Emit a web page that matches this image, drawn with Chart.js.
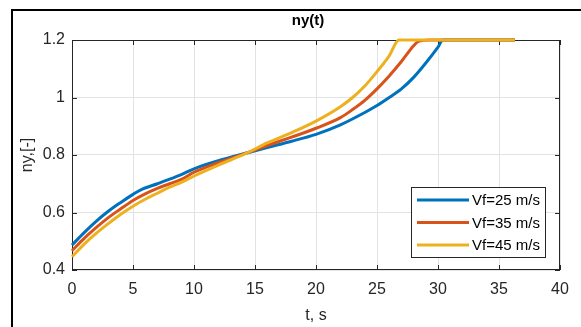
<!DOCTYPE html>
<html>
<head>
<meta charset="utf-8">
<script src="https://cdn.jsdelivr.net/npm/chart.js@4.4.0/dist/chart.umd.min.js"></script>
<style>
  html, body { margin: 0; padding: 0; background: #fff; }
  #wrap { width: 581px; height: 327px; }
</style>
</head>
<body>
<div id="wrap"><canvas id="chart" width="581" height="327"></canvas></div>
<script>
// values
const t25  = [0, 1, 2, 3, 4, 5, 5.6, 7, 8, 9, 10, 12, 14.4, 16, 18, 20, 22, 24, 25, 26, 27, 28, 29, 30, 30.4, 36.3];
const ny25 = [0.487, 0.53, 0.57, 0.605, 0.635, 0.663, 0.678, 0.700, 0.716, 0.733, 0.752, 0.780, 0.808, 0.826, 0.848, 0.872, 0.905, 0.948, 0.972, 1.0, 1.03, 1.07, 1.12, 1.175, 1.2, 1.2];

const t35  = [0, 1, 2, 3, 4, 5, 6, 7, 8, 9, 10, 12, 14.4, 16, 18, 20, 22, 23, 24, 25, 26, 27, 28, 28.4, 29.3, 36.3];
const ny35 = [0.467, 0.51, 0.548, 0.583, 0.613, 0.642, 0.665, 0.684, 0.700, 0.716, 0.740, 0.773, 0.808, 0.833, 0.862, 0.893, 0.930, 0.958, 0.990, 1.030, 1.075, 1.125, 1.180, 1.195, 1.2, 1.2];

const t45  = [0, 1, 2, 3, 4, 5, 6, 7, 8, 9, 10, 12, 14.4, 16, 18, 20, 22, 23, 24, 25, 26, 26.8, 36.3];
const ny45 = [0.446, 0.49, 0.528, 0.562, 0.594, 0.622, 0.646, 0.667, 0.688, 0.706, 0.727, 0.765, 0.808, 0.842, 0.878, 0.918, 0.968, 1.0, 1.04, 1.09, 1.145, 1.2, 1.2];

const seriesLabels = ['Vf=25 m/s', 'Vf=35 m/s', 'Vf=45 m/s'];
const seriesColors = ['#0072BD', '#D95319', '#EDB120'];
const xTicks = [0, 5, 10, 15, 20, 25, 30, 35, 40];
const yTicks = [0.4, 0.6, 0.8, 1.0, 1.2];

const FONT = "'Liberation Sans', Arial, Helvetica, sans-serif";
const INK = '#262626';

function points(ts, vs) {
    return ts.map((t, i) => ({ x: t, y: vs[i] }));
}

// outer frame, inward ticks, box, title and legend like the matlab figure
const matlabLook = {
    id: 'matlabLook',
    beforeDraw(chart) {
        const ctx = chart.ctx;
        ctx.save();
        ctx.fillStyle = '#fff';
        ctx.fillRect(0, 0, chart.width, chart.height);
        ctx.restore();
    },
    beforeDatasetsDraw(chart) {
        const { ctx, chartArea: a, scales: { x, y } } = chart;
        ctx.save();

        // axes box
        ctx.strokeStyle = INK;
        ctx.lineWidth = 1;
        ctx.strokeRect(a.left + 0.5, a.top + 0.5, a.right - a.left - 1, a.bottom - a.top - 1);

        // ticks pointing inward
        ctx.beginPath();
        for (const v of xTicks) {
            const px = Math.round(x.getPixelForValue(v)) + 0.5;
            ctx.moveTo(px, a.bottom); ctx.lineTo(px, a.bottom - 5);
            ctx.moveTo(px, a.top); ctx.lineTo(px, a.top + 5);
        }
        for (const v of yTicks) {
            const py = Math.round(y.getPixelForValue(v)) + 0.5;
            ctx.moveTo(a.left, py); ctx.lineTo(a.left + 5, py);
            ctx.moveTo(a.right, py); ctx.lineTo(a.right - 5, py);
        }
        ctx.stroke();
        ctx.restore();
    },
    afterDatasetsDraw(chart) {
        const { ctx, chartArea: a } = chart;
        ctx.save();

        // title
        ctx.fillStyle = '#000';
        ctx.font = 'bold 15px ' + FONT;
        ctx.textAlign = 'center';
        ctx.textBaseline = 'middle';
        ctx.fillText('ny(t)', (a.left + a.right) / 2 - 8, 21);

        // legend box
        const lx = 411, ly = 187, lw = 135, lh = 71;
        ctx.fillStyle = '#fff';
        ctx.fillRect(lx, ly, lw, lh);
        ctx.strokeStyle = INK;
        ctx.lineWidth = 1;
        ctx.strokeRect(lx + 0.5, ly + 0.5, lw - 1, lh - 1);
        ctx.font = '15px ' + FONT;
        ctx.textAlign = 'left';
        chart.data.datasets.forEach((ds, i) => {
            const ry = 200 + i * 22.5;
            ctx.strokeStyle = ds.borderColor;
            ctx.lineWidth = 3;
            ctx.beginPath();
            ctx.moveTo(417, ry);
            ctx.lineTo(469, ry);
            ctx.stroke();
            ctx.fillStyle = '#000';
            ctx.fillText(ds.label, 472, ry + 1);
        });

        // figure frame
        ctx.strokeStyle = '#000';
        ctx.lineWidth = 2;
        ctx.beginPath();
        ctx.moveTo(12, chart.height);
        ctx.lineTo(12, 10);
        ctx.lineTo(chart.width, 10);
        ctx.stroke();

        ctx.restore();
    }
};

new Chart(document.getElementById('chart'), {
    type: 'line',
    data: {
        datasets: [
            { label: seriesLabels[0], data: points(t25, ny25), borderColor: seriesColors[0], order: 3, clip: false },
            { label: seriesLabels[1], data: points(t35, ny35), borderColor: seriesColors[1], order: 2, clip: false },
            { label: seriesLabels[2], data: points(t45, ny45), borderColor: seriesColors[2], order: 1, clip: false }
        ]
    },
    options: {
        responsive: false,
        animation: false,
        devicePixelRatio: 1,
        layout: { padding: { top: 40, right: 21, bottom: 0, left: 0 } },
        elements: {
            point: { radius: 0 },
            line: { borderWidth: 3, cubicInterpolationMode: 'monotone', fill: false }
        },
        plugins: {
            legend: { display: false },
            title: { display: false },
            tooltip: { enabled: false }
        },
        scales: {
            x: {
                type: 'linear',
                min: 0,
                max: 40,
                afterFit: (s) => { s.height = 57; },
                afterBuildTicks: (s) => { s.ticks = xTicks.map(v => ({ value: v })); },
                ticks: { padding: 10, color: INK, font: { family: FONT, size: 16 } },
                grid: { color: '#e3e3e3', drawTicks: false },
                border: { display: false },
                title: { display: true, text: 't, s', color: INK, font: { family: FONT, size: 16 }, padding: { top: 0, bottom: 2 } }
            },
            y: {
                min: 0.4,
                max: 1.2,
                afterFit: (s) => { s.width = 72; },
                afterBuildTicks: (s) => { s.ticks = yTicks.map(v => ({ value: v })); },
                ticks: {
                    padding: 7, color: INK, font: { family: FONT, size: 16 },
                    callback: (v) => String(Number(v.toFixed(1)))
                },
                grid: { color: '#e3e3e3', drawTicks: false },
                border: { display: false },
                title: { display: true, text: 'ny,[-]', color: INK, font: { family: FONT, size: 16 }, padding: { top: 18, bottom: 0 } }
            }
        }
    },
    plugins: [matlabLook]
});
</script>
</body>
</html>
